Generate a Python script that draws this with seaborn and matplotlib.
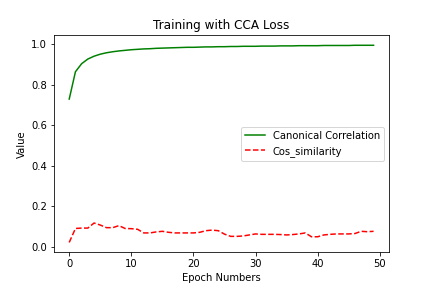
import matplotlib
matplotlib.use("Agg")
import matplotlib.pyplot as plt
import seaborn as sns
import numpy as np

epochs = list(range(50))
canonical_corr = [0.73, 0.865, 0.905, 0.928, 0.942, 0.952, 0.959, 0.964, 0.968, 0.971,
                  0.974, 0.976, 0.978, 0.979, 0.981, 0.982, 0.983, 0.984, 0.985, 0.986,
                  0.986, 0.987, 0.988, 0.988, 0.989, 0.989, 0.990, 0.990, 0.991, 0.991,
                  0.991, 0.992, 0.992, 0.992, 0.993, 0.993, 0.993, 0.994, 0.994, 0.994,
                  0.994, 0.995, 0.995, 0.995, 0.995, 0.995, 0.996, 0.996, 0.996, 0.996]
cos_similarity = [0.021, 0.090, 0.092, 0.092, 0.117, 0.107, 0.094, 0.094, 0.104, 0.090,
                  0.089, 0.086, 0.068, 0.068, 0.073, 0.076, 0.071, 0.068, 0.068, 0.068,
                  0.068, 0.071, 0.079, 0.082, 0.079, 0.062, 0.051, 0.051, 0.053, 0.058,
                  0.063, 0.061, 0.061, 0.061, 0.060, 0.058, 0.060, 0.063, 0.068, 0.049,
                  0.049, 0.058, 0.061, 0.063, 0.063, 0.063, 0.065, 0.076, 0.074, 0.076]

fig, ax = plt.subplots(figsize=(6, 4), dpi=72)
fig.subplots_adjust(left=0.125, right=0.9, top=0.877, bottom=0.124)
sns.lineplot(x=epochs, y=canonical_corr, ax=ax, color="green", label="Canonical Correlation")
sns.lineplot(x=epochs, y=cos_similarity, ax=ax, color="red", linestyle="--", label="Cos_similarity")
ax.set_title("Training with CCA Loss")
ax.set_xlabel("Epoch Numbers")
ax.set_ylabel("Value")
ax.legend(loc="center right")
fig.savefig("out.png", dpi=72)
